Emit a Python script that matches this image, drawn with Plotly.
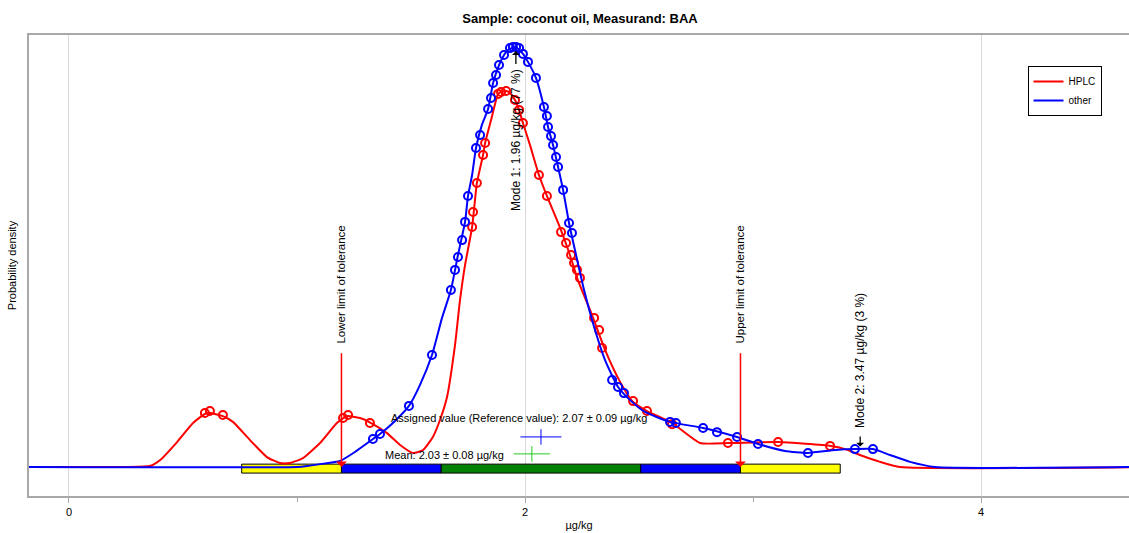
import plotly.graph_objects as go

# ---------------- data ----------------
hplc_x = [-0.2, 0.246, 0.355, 0.40, 0.474, 0.544, 0.605, 0.675, 0.719, 0.794, 0.868, 0.925, 0.969,
          1.026, 1.101, 1.175, 1.219, 1.276, 1.325, 1.395, 1.452, 1.509, 1.553, 1.596, 1.627, 1.658,
          1.693, 1.715, 1.737, 1.768, 1.789, 1.816, 1.825, 1.851, 1.882, 1.895, 1.917, 1.934, 1.956,
          1.974, 1.991, 2.022, 2.061, 2.096, 2.154, 2.197, 2.232, 2.294, 2.351, 2.417, 2.474, 2.535,
          2.645, 2.768, 2.895, 3.11, 3.342, 3.404, 3.469, 3.557, 3.645, 4.7]
hplc_y = [0, 0, 0.003, 0.022, 0.078, 0.1375, 0.169, 0.159, 0.141, 0.084, 0.031, 0.0125, 0.0125,
          0.028, 0.075, 0.1375, 0.159, 0.153, 0.1375, 0.106, 0.069, 0.044, 0.053, 0.094, 0.147, 0.219,
          0.381, 0.522, 0.631, 0.75, 0.8875, 0.975, 1.0125, 1.084, 1.166, 1.172, 1.175, 1.169, 1.147,
          1.116, 1.075, 1.006, 0.9125, 0.847, 0.747, 0.6625, 0.584, 0.475, 0.366, 0.266, 0.203, 0.175,
          0.1375, 0.075, 0.075, 0.078, 0.066, 0.056, 0.0375, 0.016, 0, 0]

other_x = [-0.2, 1.0, 1.044, 1.101, 1.189, 1.254, 1.333, 1.364, 1.43, 1.491, 1.539, 1.592, 1.636,
           1.675, 1.706, 1.737, 1.75, 1.768, 1.785, 1.811, 1.838, 1.86, 1.886, 1.908, 1.925, 1.943,
           1.965, 1.991, 2.013, 2.048, 2.083, 2.101, 2.123, 2.145, 2.167, 2.193, 2.219, 2.259, 2.307,
           2.351, 2.408, 2.461, 2.526, 2.636, 2.781, 2.93, 3.022, 3.14, 3.241, 3.36, 3.447, 3.526,
           3.601, 3.689, 3.798, 4.7]
other_y = [0, 0, 0.003, 0.009, 0.019, 0.047, 0.0875, 0.103, 0.144, 0.191, 0.256, 0.35, 0.466,
           0.553, 0.6625, 0.766, 0.847, 0.9125, 0.997, 1.069, 1.119, 1.2, 1.256, 1.2875, 1.303, 1.309,
           1.309, 1.291, 1.266, 1.216, 1.125, 1.0625, 1.006, 0.9375, 0.866, 0.7625, 0.678, 0.553, 0.428,
           0.334, 0.25, 0.209, 0.172, 0.141, 0.122, 0.094, 0.072, 0.05, 0.044, 0.053, 0.056, 0.056,
           0.0375, 0.016, 0, 0]

hplc_lab_x = [0.596, 0.618, 0.675, 1.202, 1.224, 1.320, 1.768, 1.772, 1.789, 1.816, 1.825, 1.882,
              1.895, 1.917, 1.956, 1.974, 1.991, 2.061, 2.096, 2.158, 2.18, 2.202, 2.215, 2.228,
              2.241, 2.303, 2.325, 2.338, 2.474, 2.535, 2.645, 2.89, 3.11, 3.338]
hplc_lab_y = [0.169, 0.175, 0.1625, 0.153, 0.1625, 0.1375, 0.75, 0.797, 0.8875, 0.975, 1.0125, 1.166,
              1.172, 1.175, 1.147, 1.116, 1.075, 0.9125, 0.847, 0.734, 0.7, 0.6625, 0.6375, 0.616,
              0.591, 0.466, 0.428, 0.372, 0.206, 0.175, 0.134, 0.075, 0.078, 0.066]

other_lab_x = [1.333, 1.364, 1.491, 1.592, 1.675, 1.693, 1.706, 1.724, 1.737, 1.75, 1.785, 1.803,
               1.838, 1.851, 1.86, 1.873, 1.886, 1.908, 1.934, 1.947, 1.961, 1.974, 1.991, 2.013,
               2.048, 2.083, 2.096, 2.101, 2.114, 2.123, 2.136, 2.145, 2.167, 2.193, 2.206, 2.382,
               2.408, 2.434, 2.636, 2.662, 2.781, 2.842, 2.93, 3.022, 3.241, 3.447, 3.526]
other_lab_y = [0.0875, 0.103, 0.191, 0.35, 0.553, 0.616, 0.656, 0.709, 0.766, 0.847, 0.997, 1.0375,
               1.119, 1.153, 1.2, 1.225, 1.256, 1.2875, 1.309, 1.3125, 1.3125, 1.309, 1.291, 1.266,
               1.216, 1.125, 1.097, 1.0625, 1.034, 1.006, 0.969, 0.9375, 0.866, 0.7625, 0.731, 0.272,
               0.25, 0.231, 0.141, 0.1375, 0.122, 0.109, 0.094, 0.072, 0.044, 0.056, 0.056]

assigned_value = 2.07
assigned_unc = 0.09
mean_value = 2.03
mean_unc = 0.08
tolerance = 0.875          # half-width of tolerance interval
mode1 = 1.96
mode2 = 3.47
tick_vals = [0, 2, 4]
tick_text = ["0", "2", "4"]

RED = "#ff0000"
BLUE = "#0000ff"
GREEN_LIGHT = "#22cc22"
FONT = "Liberation Sans, Arial, sans-serif"

fig = go.Figure()

fig.add_trace(go.Scatter(x=hplc_x, y=hplc_y, mode="lines", name="HPLC",
                         line=dict(color=RED, width=2, shape="spline", smoothing=0.5)))
fig.add_trace(go.Scatter(x=hplc_lab_x, y=hplc_lab_y, mode="markers", showlegend=False,
                         marker=dict(symbol="circle-open", size=8, color=RED, line=dict(width=2))))
fig.add_trace(go.Scatter(x=other_x, y=other_y, mode="lines", name="other",
                         line=dict(color=BLUE, width=2, shape="spline", smoothing=0.5)))
fig.add_trace(go.Scatter(x=other_lab_x, y=other_lab_y, mode="markers", showlegend=False,
                         marker=dict(symbol="circle-open", size=8, color=BLUE, line=dict(width=2))))

# assigned value and mean with uncertainty
fig.add_trace(go.Scatter(x=[assigned_value], y=[0.094], mode="markers", showlegend=False,
                         marker=dict(symbol="line-ns", size=11, line=dict(width=1, color=BLUE)),
                         error_x=dict(type="data", array=[assigned_unc], width=0, thickness=1, color=BLUE)))
fig.add_trace(go.Scatter(x=[mean_value], y=[0.041], mode="markers", showlegend=False,
                         marker=dict(symbol="line-ns", size=11, line=dict(width=1, color=GREEN_LIGHT)),
                         error_x=dict(type="data", array=[mean_unc], width=0, thickness=1, color=GREEN_LIGHT)))

# tolerance bar
bands = [(-1.5, -1.0, "#ffff00"), (-1.0, -0.5, BLUE), (-0.5, 0.5, "#008000"),
         (0.5, 1.0, BLUE), (1.0, 1.5, "#ffff00")]
shapes = []
for a, b, c in bands:
    shapes.append(dict(type="rect", xref="x", yref="y",
                       x0=assigned_value + a * tolerance, x1=assigned_value + b * tolerance,
                       y0=-0.019, y1=0.009, fillcolor=c, line=dict(color="black", width=1),
                       layer="between"))

annotations = []
for xv, label in [(assigned_value - tolerance, "Lower limit of tolerance"),
                  (assigned_value + tolerance, "Upper limit of tolerance")]:
    annotations.append(dict(x=xv, y=0.0, xref="x", yref="y", ax=xv, ay=0.36, axref="x", ayref="y",
                            showarrow=True, arrowhead=1, arrowsize=1.2, arrowwidth=1.5,
                            arrowcolor=RED, text=""))
    annotations.append(dict(x=xv, y=0.381, xref="x", yref="y", text=label, showarrow=False,
                            textangle=-90, xanchor="center", yanchor="bottom",
                            font=dict(size=11.5, color="black", family=FONT)))

# modes
annotations.append(dict(x=mode1, y=1.30, xref="x", yref="y", ax=mode1, ay=1.255, axref="x", ayref="y",
                        showarrow=True, arrowhead=1, arrowsize=1, arrowwidth=1.3, arrowcolor="black", text=""))
annotations.append(dict(x=mode1, y=1.25, xref="x", yref="y", text="Mode 1: 1.96 µg/kg (77 %)",
                        showarrow=False, textangle=-90, xanchor="center", yanchor="top",
                        font=dict(size=12, color="black", family=FONT)))
annotations.append(dict(x=mode2, y=0.064, xref="x", yref="y", ax=mode2, ay=0.1, axref="x", ayref="y",
                        showarrow=True, arrowhead=1, arrowsize=1, arrowwidth=1.3, arrowcolor="black", text=""))
annotations.append(dict(x=mode2, y=0.115, xref="x", yref="y", text="Mode 2: 3.47 µg/kg (3 %)",
                        showarrow=False, textangle=-90, xanchor="center", yanchor="bottom",
                        font=dict(size=12, color="black", family=FONT)))

annotations.append(dict(x=1.404, y=0.153, xref="x", yref="y", xanchor="left", yanchor="middle",
                        text="Assigned value (Reference value): 2.07 ± 0.09 µg/kg", showarrow=False,
                        font=dict(size=11, color="black", family=FONT)))
annotations.append(dict(x=1.917, y=0.0375, xref="x", yref="y", xanchor="right", yanchor="middle",
                        text="Mean: 2.03 ± 0.08 µg/kg", showarrow=False,
                        font=dict(size=11, color="black", family=FONT)))

fig.update_layout(
    width=1129, height=533,
    margin=dict(l=29, r=0, t=35, b=37),
    paper_bgcolor="white", plot_bgcolor="white",
    font=dict(family=FONT, size=11, color="black"),
    title=dict(text="<b>Sample: coconut oil, Measurand: BAA</b>", x=(580 / 1129), xanchor="center",
               y=1 - 18 / 533, yanchor="middle", yref="container",
               font=dict(size=13, family=FONT, color="black")),
    showlegend=True,
    legend=dict(x=0.975, xanchor="right", y=0.933, yanchor="top", bgcolor="white",
                bordercolor="black", borderwidth=1, font=dict(size=10, family=FONT),
                itemwidth=30, tracegroupgap=0),
    shapes=shapes,
    annotations=annotations,
)
fig.update_xaxes(range=[-0.1754, 4.649], tickvals=tick_vals, ticktext=tick_text,
                 showgrid=True, gridcolor="#d8d8d8", gridwidth=1, zeroline=False,
                 showline=True, linecolor="#a8a8a8", linewidth=2, mirror=True,
                 ticks="outside", ticklen=5, tickcolor="#a8a8a8",
                 minor=dict(tickvals=[1, 3], ticks="outside", ticklen=4, tickcolor="#a8a8a8", showgrid=False),
                 tickfont=dict(size=11, family=FONT),
                 title=dict(text="µg/kg", font=dict(size=11, family=FONT), standoff=4))
fig.update_yaxes(range=[-0.0906, 1.35], showticklabels=False, ticks="", showgrid=False, zeroline=False,
                 showline=True, linecolor="#a8a8a8", linewidth=2, mirror=False,
                 title=dict(text="Probability density", font=dict(size=11, family=FONT), standoff=8))

fig.write_html("out.html")
